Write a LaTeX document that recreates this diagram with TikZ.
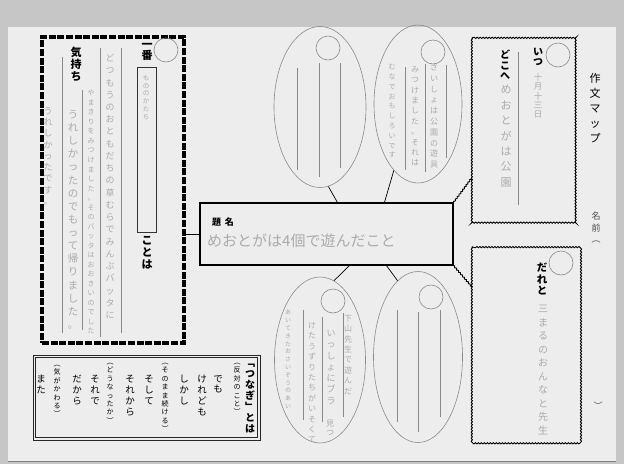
\documentclass[tikz,border=0pt]{standalone}
\usepackage{fontspec}
\setmainfont{Noto Sans CJK JP}
\usetikzlibrary{shapes.geometric,decorations.pathmorphing,calc}
\definecolor{paper}{HTML}{EDEDED}
\definecolor{bggray}{HTML}{C6C6C6}
\definecolor{pencil}{HTML}{ABABAB}
\definecolor{printgray}{HTML}{8A8A8A}
\def\vtA#1{\ifx#1\relax\else\hbox to 1em{\hss#1\hss}\expandafter\vtA\fi}
\newcommand\vt[2][1.1]{\vbox{\baselineskip=#1em\lineskip=0pt\lineskiplimit=-100pt\vtA#2\relax}}
\tikzset{
  lbl/.style={anchor=north, inner sep=0pt, font=\bfseries\fontsize{10}{10}\selectfont},
  hw/.style={anchor=north, inner sep=0pt, text=pencil, font=\fontsize{9}{9}\selectfont},
  word/.style={anchor=north, inner sep=0pt, font=\fontsize{9.5}{9.5}\selectfont},
  paren/.style={anchor=north, inner sep=0pt, font=\fontsize{7}{7}\selectfont},
  ell/.style={draw=printgray, line width=0.6pt, ellipse, inner sep=0pt},
  hole/.style={draw=printgray, line width=0.6pt, circle, inner sep=0pt, minimum size=24pt},
  rule/.style={draw=printgray, line width=0.5pt},
  dashbox/.style={draw=black, line width=3.2pt, dash pattern=on 7pt off 1.6pt, inner sep=0pt},
  wavy/.style={draw=black, line width=0.9pt, decorate, decoration={snake, segment length=3pt, amplitude=0.6pt}},
  wbox/.style={inner sep=0pt},
  conn/.style={draw=black, line width=0.7pt},
}
\begin{document}
\begin{tikzpicture}[x=1pt,y=-1pt]
\useasboundingbox (0,0) rectangle (624,464);
\fill[bggray] (0,0) rectangle (624,464);
\fill[paper] (8,27) rectangle (616,461);
\draw[gray, line width=0.8pt] (8,461) -- (616,461);

% ---------- left dashed box ----------
\node[dashbox, minimum width=142pt, minimum height=306pt] (lbox) at (113,190) {};
\node[hole] (h1) at (166,50) {};
\node[draw=black!80, line width=0.9pt, inner sep=0pt, minimum width=19pt, minimum height=165pt] (kbox) at (146.5,149.5) {};
\node[lbl, font=\bfseries\fontsize{11}{11}\selectfont] (ichiban) at (147,43) {\vt[1.05]{一番}};
\node[lbl, font=\bfseries\fontsize{11}{11}\selectfont] (kotoba) at (147,236) {\vt[1.1]{ことは}};
\node[lbl, font=\bfseries\fontsize{11}{11}\selectfont] (kimochi) at (76,47) {\vt[1.1]{気持ち}};
\draw[rule] (62,57) -- (62,333);
\draw[rule] (82,90) -- (82,330);
\draw[rule] (100,48) -- (100,337);
\draw[rule] (121,48) -- (121,333);
\node[hw, font=\fontsize{6.5}{6.5}\selectfont] (hk) at (146,75) {\vt[1.2]{もののかたち}};
\node[hw] (hl1) at (110,54) {\vt[1.36]{どつもうのおともだちの草むらでみんぶバッタに}};
\node[hw, font=\fontsize{7}{7}\selectfont] (hl2) at (91,90) {\vt[1.36]{やまきりをみつけました。そのバッタはおおきいのでした}};
\node[hw, font=\fontsize{10.5}{10.5}\selectfont] (hl3) at (73,110) {\vt[1.25]{うれしかったのでもって帰りました。}};
\node[hw, font=\fontsize{9}{9}\selectfont] (hl4) at (48,107) {\vt[1.25]{うれしかったです。}};

% ---------- title box ----------
\node[draw=black, line width=1.1pt, minimum width=253pt, minimum height=62pt, inner sep=0pt] (title) at (326.5,234) {};
\node[anchor=west, inner sep=0pt, font=\bfseries\fontsize{9}{9}\selectfont] (daimei) at (212,222) {題\hspace{0.4em}名};
\node[anchor=west, inner sep=0pt, text=pencil, font=\fontsize{15}{15}\selectfont] (htitle) at (207,241) {めおとがは4個で遊んだこと};
\draw[conn] (lbox.east |- title.west) -- (title.west);

% ---------- ellipses ----------
\node[ell, minimum width=92pt, minimum height=161pt] (e1) at (320,107) {};
\node[ell, minimum width=88pt, minimum height=158pt] (e2) at (418,104) {};
\node[ell, minimum width=91pt, minimum height=166pt] (e3) at (320,360) {};
\node[ell, minimum width=89pt, minimum height=171pt] (e4) at (418,357) {};
\node[hole] (c1) at (328,48) {};
\node[hole] (c2) at (433,52) {};
\node[hole] (c3) at (333,301) {};
\node[hole] (c4) at (431,297) {};
\draw[rule] (297,68) -- (297,170);
\draw[rule] (319,63) -- (319,177);
\draw[rule] (340,63) -- (340,168);
\draw[rule] (405,67) -- (405,170);
\draw[rule] (425,64) -- (425,172);
\draw[rule] (446,65) -- (446,158);
\draw[rule] (303,310) -- (303,420);
\draw[rule] (322,317) -- (322,422);
\draw[rule] (343,313) -- (343,417);
\draw[rule] (397,310) -- (397,422);
\draw[rule] (418,312) -- (418,432);
\draw[rule] (440,310) -- (440,417);
\draw[conn] ($(title.north west)+(138,0)$) -- (e1.-84);
\draw[conn] ($(title.north west)+(185,0)$) -- (e2.-110);
\draw[conn] ($(title.south west)+(150,0)$) -- (e3.80);
\draw[conn] ($(title.south west)+(187,0)$) -- (e4.105);
% handwriting in ellipses
\node[hw, font=\fontsize{8}{8}\selectfont] (he21) at (434,64) {\vt[1.35]{さいしょは公園の遊具}};
\node[hw, font=\fontsize{8}{8}\selectfont] (he22) at (415,66) {\vt[1.3]{みつけました。それは}};
\node[hw, font=\fontsize{7}{7}\selectfont] (he23) at (392,64) {\vt[1.4]{むなでおもしろいです}};
\node[hw, font=\fontsize{8}{8}\selectfont] (he31) at (348,315) {\vt[1.3]{下山先生で遊んだ}};
\node[hw, font=\fontsize{9}{9}\selectfont] (he32) at (331,330) {\vt[1.25]{いっしょにブラ}};
\node[hw, font=\fontsize{8}{8}\selectfont] (he33) at (330,420) {\vt[1.1]{見つ}};
\node[hw, font=\fontsize{8}{8}\selectfont] (he34) at (312,322) {\vt[1.3]{けたうずりたちがいそくて}};
\node[hw, font=\fontsize{6}{6}\selectfont] (he35) at (288,310) {\vt[1.3]{あいてきたおさいぞうのあい}};

% ---------- right wavy boxes ----------
\node[wbox, minimum width=104pt, minimum height=185pt] (tbox) at (524,130.5) {};
\draw[wavy] (tbox.north west) rectangle (tbox.south east);
\node[wbox, minimum width=107pt, minimum height=195pt] (bbox) at (525.5,344.5) {};
\draw[wavy] (bbox.north west) rectangle (bbox.south east);
\draw[wavy] (title.north east) -- ($(tbox.north west)+(0,140)$);
\draw[wavy] (title.south east) -- ($(bbox.north west)+(0,40)$);
\node[hole] (c5) at (558,55) {};
\node[hole] (c6) at (561,263) {};
\node[lbl] (itsu) at (538,48) {\vt[1.05]{いつ}};
\node[lbl] (dokohe) at (505,50) {\vt[1.05]{どこへ}};
\draw[rule] (518,52) -- (518,205);
\node[hw, font=\fontsize{8.5}{8.5}\selectfont] (hitsu) at (538,73) {\vt[1.1]{十月十三日}};
\node[hw, font=\fontsize{11}{11}\selectfont] (hdoko) at (506,85) {\vt[1.4]{めおとがは公園}};
\node[lbl, font=\bfseries\fontsize{10.5}{10.5}\selectfont] (dareto) at (542,263) {\vt[1.1]{だれと}};
\node[hw, font=\fontsize{10}{10}\selectfont] (hdare) at (543,305) {\vt[1.35]{三まるのおんなと先生}};

% ---------- right margin ----------
\node[anchor=north, inner sep=0pt, font=\fontsize{11}{11}\selectfont] (sakubun) at (595,73) {\vt[1.36]{作文マップ}};
\node[anchor=north, inner sep=0pt, text=black!70, font=\fontsize{9}{9}\selectfont] (namae) at (596,212) {\vt[1.25]{名前︵}};
\node[anchor=north, inner sep=0pt, text=black!70, font=\fontsize{9}{9}\selectfont] (namae2) at (598,402) {︶};

% ---------- connecting words box ----------
\node[draw=black!85, line width=0.6pt, minimum width=227pt, minimum height=85pt, inner sep=0pt] (tsunagi) at (146.5,397.5) {};
\draw[black!85, line width=1.1pt] ($(tsunagi.north west)+(2.8,2.8)$) rectangle ($(tsunagi.south east)+(-2.8,-2.8)$);
\node[lbl, font=\bfseries\fontsize{10}{10}\selectfont] (tt) at (250,364) {\vt[1.1]{﹁つなぎ﹂とは}};
\node[paren] (p1) at (237,363) {\vt[1.2]{︵反対のこと︶}};
\node[word] (w1) at (218,375) {\vt[1.15]{でも}};
\node[word] (w2) at (202,375) {\vt[1.15]{けれども}};
\node[word] (w3) at (184,375) {\vt[1.15]{しかし}};
\node[paren] (p2) at (165,363) {\vt[1.2]{︵そのまま続ける︶}};
\node[word] (w4) at (149,375) {\vt[1.15]{そして}};
\node[word] (w5) at (130,375) {\vt[1.15]{それから}};
\node[paren] (p3) at (110,363) {\vt[1.2]{︵どうなったか︶}};
\node[word] (w6) at (95,375) {\vt[1.15]{それで}};
\node[word] (w7) at (77,375) {\vt[1.15]{だから}};
\node[paren] (p4) at (57,365) {\vt[1.2]{︵気がかわる︶}};
\node[word] (w8) at (41,375) {\vt[1.15]{また}};
\end{tikzpicture}
\end{document}
